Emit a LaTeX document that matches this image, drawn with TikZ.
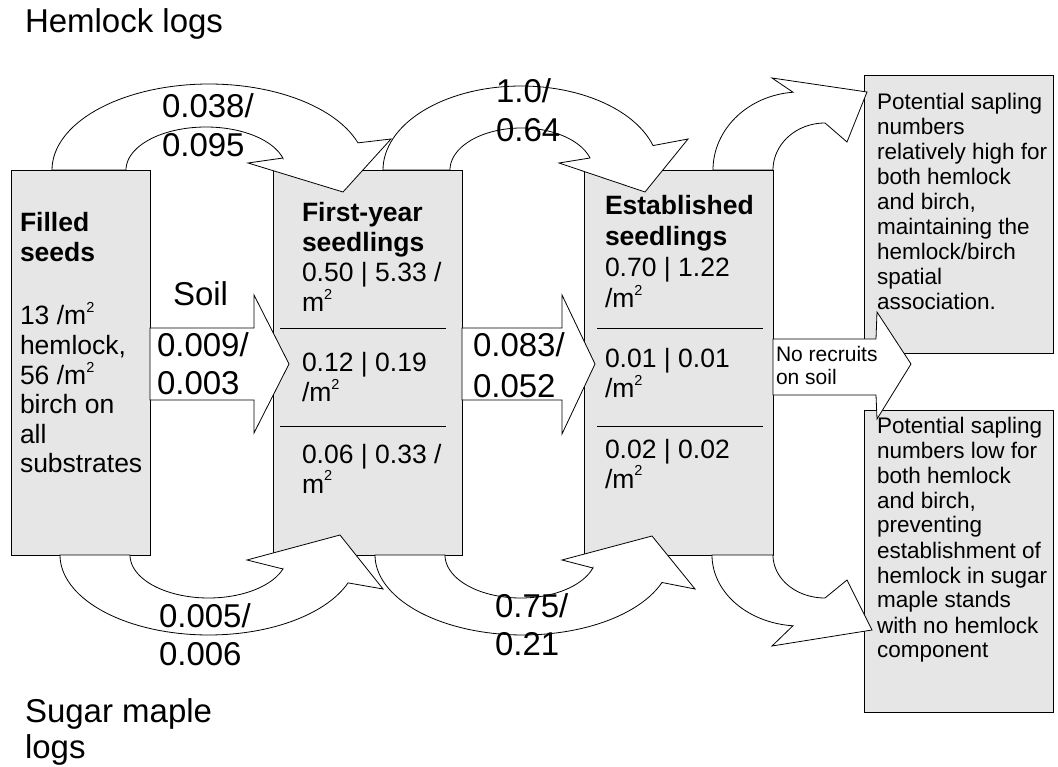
\documentclass[tikz,border=0pt]{standalone}
\usepackage{fontspec}
\setmainfont{Liberation Sans}
\definecolor{boxgray}{RGB}{230,230,230}
\newcommand{\mlines}[2]{\vtop{\baselineskip=#1pt\lineskiplimit=-100pt\relax #2}}
\newcommand{\msq}{m\raisebox{0.46em}{\fontsize{14.5}{14.5}\selectfont 2}}
\begin{document}
\begin{tikzpicture}[x=1pt,y=-1pt,line width=0.8pt,
  gbox/.style={draw=black,fill=boxgray,line width=0.8pt,inner sep=0pt,outer sep=0pt,anchor=north west},
  arr/.style={draw=black,fill=white,line width=0.8pt,line join=miter},
  divline/.style={draw=black,line width=0.8pt},
  txt/.style={anchor=base west,inner sep=0pt,outer sep=0pt},
  big/.style={txt,font=\fontsize{33}{39}\selectfont},
  boxt/.style={txt,font=\fontsize{26.5}{30}\selectfont},
  note/.style={txt,font=\fontsize{22.5}{25}\selectfont},
  small/.style={txt,font=\fontsize{21}{23}\selectfont},
]
\path[use as bounding box] (0,0) rectangle (1058,767);
\fill[white] (0,0) rectangle (1058,767);

% boxes
\node[gbox,minimum width=139pt,minimum height=385pt] (seeds) at (11,170) {};
\node[gbox,minimum width=189pt,minimum height=385pt] (first) at (273,170) {};
\node[gbox,minimum width=189pt,minimum height=385pt] (estab) at (584,170) {};
\node[gbox,minimum width=189pt,minimum height=278pt] (high) at (864,75) {};
\node[gbox,minimum width=189pt,minimum height=302pt] (low) at (864,410) {};

% dividers
\draw[divline] (280,328) -- (446,328);
\draw[divline] (280,426) -- (446,426);
\draw[divline] (597,328) -- (763,328);
\draw[divline] (597,426) -- (763,426);

% straight arrows
\filldraw[arr] (150,328) -- (254,328) -- (254,295) -- (289,364) -- (254,433) -- (254,400) -- (150,400) -- cycle;
\filldraw[arr] (462,328) -- (562,328) -- (562,295) -- (595,364) -- (562,434) -- (562,400) -- (462,400) -- cycle;
\filldraw[arr] (773,339) -- (876,339) -- (877,312) -- (911,364) -- (877,419) -- (876,395) -- (773,395) -- cycle;

% top curved arrows
\filldraw[arr] (52,170)
  -- plot[domain=180:18.4,samples=60,variable=\t] ({209+157*cos(\t)},{170-86*sin(\t)})
  -- (391,139) -- (343,192) -- (248,163) -- (283,158)
  -- plot[domain=15.7:180,samples=60,variable=\t] ({206+80*cos(\t)},{170-43*sin(\t)})
  -- cycle;
\filldraw[arr] (383,170)
  -- plot[domain=180:16.9,samples=60,variable=\t] ({521+138*cos(\t)},{170-84*sin(\t)})
  -- (688,139) -- (645,192) -- (559,163) -- (590,158)
  -- plot[domain=16.7:180,samples=60,variable=\t] ({521.5+71.5*cos(\t)},{170-42*sin(\t)})
  -- cycle;
\filldraw[arr] (713,170)
  -- plot[domain=180:94.6,samples=40,variable=\t] ({800+87*cos(\t)},{170-78*sin(\t)})
  -- (772,78) -- (867,92) -- (847,142) -- (825,123)
  -- plot[domain=90:180,samples=40,variable=\t] ({825+52*cos(\t)},{170-47*sin(\t)})
  -- cycle;

% bottom curved arrows
\filldraw[arr] (60,555)
  -- plot[domain=180:20.4,samples=60,variable=\t] ({208.7+148.7*cos(\t)},{555+80*sin(\t)})
  -- (383,589) -- (340,535) -- (247,560) -- (283,569)
  -- plot[domain=18.8:180,samples=60,variable=\t] ({208.6+78.6*cos(\t)},{555+43*sin(\t)})
  -- cycle;
\filldraw[arr] (375,555)
  -- plot[domain=180:20.1,samples=60,variable=\t] ({523+148*cos(\t)},{555+80*sin(\t)})
  -- (695,589) -- (652,536) -- (562,560) -- (593,568)
  -- plot[domain=17.2:180,samples=60,variable=\t] ({520.7+75.7*cos(\t)},{555+43*sin(\t)})
  -- cycle;
\filldraw[arr] (712,555)
  -- plot[domain=180:94.6,samples=40,variable=\t] ({800+88*cos(\t)},{555+71*sin(\t)})
  -- (772,646) -- (872,630) -- (847,580) -- (825,598)
  -- plot[domain=90:180,samples=40,variable=\t] ({825+52*cos(\t)},{555+43*sin(\t)})
  -- cycle;

% titles
\node[txt,font=\fontsize{33}{36}\selectfont] (hl) at (25,33) {Hemlock logs};
\node[txt,font=\fontsize{33}{36}\selectfont] (sm) at (25,722) {\mlines{36}{\hbox{Sugar maple}\hbox{logs}}};

% arrow labels
\node[big] (l1) at (162,118) {\mlines{39}{\hbox{0.038/}\hbox{0.095}}};
\node[big] (l2) at (496,103) {\mlines{39}{\hbox{1.0/}\hbox{0.64}}};
\node[big] (soil) at (173,306) {Soil};
\node[big] (l3) at (157,357) {\mlines{38}{\hbox{0.009/}\hbox{0.003}}};
\node[big] (l4) at (473,357) {\mlines{40}{\hbox{0.083/}\hbox{0.052}}};
\node[big] (l5) at (159,627) {\mlines{38}{\hbox{0.005/}\hbox{0.006}}};
\node[big] (l6) at (495,617) {\mlines{38}{\hbox{0.75/}\hbox{0.21}}};

% box texts
\node[boxt] (t1) at (20,232) {\mlines{30}{\hbox{\bfseries Filled}\hbox{\bfseries seeds}}};
\node[boxt] (t2) at (20,325) {\mlines{29.6}{\hbox{13 /\msq}\hbox{hemlock,}\hbox{56 /\msq}\hbox{birch on}\hbox{all}\hbox{substrates}}};
\node[boxt] (t3) at (302,222) {\mlines{30}{\hbox{\bfseries First-year}\hbox{\bfseries seedlings}\hbox{0.50 | 5.33 /}\hbox{\msq}}};
\node[boxt] (t4) at (302,372) {\mlines{30}{\hbox{0.12 | 0.19}\hbox{/\msq}}};
\node[boxt] (t5) at (302,463) {\mlines{30}{\hbox{0.06 | 0.33 /}\hbox{\msq}}};
\node[boxt] (t6) at (605,215) {\mlines{31}{\hbox{\bfseries Established}\hbox{\bfseries seedlings}\hbox{0.70 | 1.22}\hbox{/\msq}}};
\node[boxt] (t7) at (605,367) {\mlines{31}{\hbox{0.01 | 0.01}\hbox{/\msq}}};
\node[boxt] (t8) at (605,458) {\mlines{30}{\hbox{0.02 | 0.02}\hbox{/\msq}}};

\node[small] (nr) at (776,362) {\mlines{23}{\hbox{No recruits}\hbox{on soil}}};

\node[note] (t9) at (877,110) {\mlines{25}{\hbox{Potential sapling}\hbox{numbers}\hbox{relatively high for}\hbox{both hemlock}\hbox{and birch,}\hbox{maintaining the}\hbox{hemlock/birch}\hbox{spatial}\hbox{association.}}};
\node[note] (t10) at (877,433) {\mlines{25}{\hbox{Potential sapling}\hbox{numbers low for}\hbox{both hemlock}\hbox{and birch,}\hbox{preventing}\hbox{establishment of}\hbox{hemlock in sugar}\hbox{maple stands}\hbox{with no hemlock}\hbox{component}}};
\end{tikzpicture}
\end{document}
